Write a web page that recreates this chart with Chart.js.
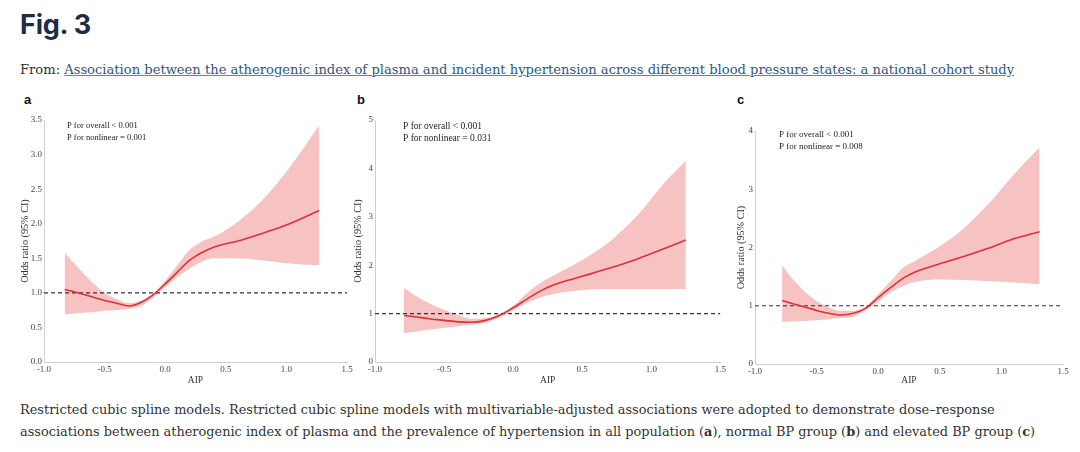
<!DOCTYPE html>
<html>
<head>
<meta charset="utf-8">
<script src="https://cdn.jsdelivr.net/npm/chart.js@4/dist/chart.umd.min.js"></script>
<style>
  body { margin: 0; background: #fff; width: 1080px; height: 452px; position: relative; overflow: hidden; }
  .fig-title { position: absolute; left: 20px; top: 8px; font: 700 27px "Inter", "Liberation Sans", sans-serif; color: #1f2c47; letter-spacing: -0.2px; }
  .from { position: absolute; left: 20px; top: 62px; font: 13.1px "DejaVu Serif", serif; color: #333; white-space: nowrap; }
  .from a { color: #2e5784; text-decoration: underline; text-decoration-color: #5a86b0; }
  .panel-tag { position: absolute; top: 92px; font: 700 13px "Liberation Sans", sans-serif; color: #111; }
  .caption { position: absolute; left: 20px; top: 399px; font: 12.9px "DejaVu Serif", serif; color: #333; line-height: 22px; white-space: nowrap; }
  canvas { position: absolute; }
</style>
</head>
<body>
<div class="fig-title">Fig. 3</div>
<div class="from">From: <a href="#">Association between the atherogenic index of plasma and incident hypertension across different blood pressure states: a national cohort study</a></div>

<div class="panel-tag" style="left:24px">a</div>
<div class="panel-tag" style="left:357px">b</div>
<div class="panel-tag" style="left:737px">c</div>

<canvas id="chartA" width="355" height="280" style="left:0px;top:110px"></canvas>
<canvas id="chartB" width="380" height="280" style="left:348px;top:110px"></canvas>
<canvas id="chartC" width="350" height="280" style="left:730px;top:110px"></canvas>

<div class="caption">Restricted cubic spline models. Restricted cubic spline models with multivariable-adjusted associations were adopted to demonstrate dose–response<br>associations between atherogenic index of plasma and the prevalence of hypertension in all population (<b>a</b>), normal BP group (<b>b</b>) and elevated BP group (<b>c</b>)</div>

<script>
// shared x axis (AIP)
const xTicks = [-1.0, -0.5, 0.0, 0.5, 1.0, 1.5];
const xTickLabels = ["-1.0", "-0.5", "0.0", "0.5", "1.0", "1.5"];
const refX = [-1.0, 1.5];
const refY = [1, 1];

// panel a - all population
const aipA = [-0.83, -0.7, -0.6, -0.5, -0.4, -0.3, -0.2, -0.1, 0.0, 0.1, 0.2, 0.3, 0.4, 0.5, 0.6, 0.8, 1.0, 1.27];
const orA = [1.05, 0.99, 0.94, 0.89, 0.85, 0.81, 0.86, 0.97, 1.13, 1.30, 1.47, 1.58, 1.66, 1.71, 1.75, 1.86, 1.98, 2.19];
const upA = [1.58, 1.33, 1.15, 1.00, 0.91, 0.85, 0.89, 0.99, 1.18, 1.40, 1.62, 1.74, 1.81, 1.91, 2.03, 2.34, 2.75, 3.42];
const loA = [0.69, 0.71, 0.72, 0.74, 0.75, 0.77, 0.81, 0.93, 1.08, 1.23, 1.35, 1.45, 1.50, 1.50, 1.50, 1.47, 1.43, 1.40];
const yTicksA = [0, 0.5, 1.0, 1.5, 2.0, 2.5, 3.0, 3.5];
const yTickLabelsA = ["0.0", "0.5", "1.0", "1.5", "2.0", "2.5", "3.0", "3.5"];
const noteA = ["P for overall < 0.001", "P for nonlinear = 0.001"];

// panel b - normal BP
const aipB = [-0.79, -0.7, -0.6, -0.5, -0.4, -0.3, -0.2, -0.1, 0.0, 0.1, 0.2, 0.3, 0.5, 0.7, 0.9, 1.1, 1.25];
const orB = [0.96, 0.93, 0.89, 0.86, 0.83, 0.82, 0.86, 0.96, 1.12, 1.30, 1.47, 1.60, 1.77, 1.94, 2.13, 2.35, 2.52];
const upB = [1.53, 1.36, 1.20, 1.08, 0.97, 0.89, 0.91, 0.99, 1.16, 1.42, 1.64, 1.80, 2.11, 2.49, 3.03, 3.72, 4.16];
const loB = [0.60, 0.63, 0.67, 0.71, 0.74, 0.77, 0.81, 0.92, 1.07, 1.22, 1.34, 1.41, 1.49, 1.51, 1.51, 1.51, 1.51];
const yTicksB = [0, 1, 2, 3, 4, 5];
const yTickLabelsB = ["0", "1", "2", "3", "4", "5"];
const noteB = ["P for overall < 0.001", "P for nonlinear = 0.031"];

// panel c - elevated BP
const aipC = [-0.78, -0.7, -0.6, -0.5, -0.4, -0.3, -0.2, -0.1, 0.0, 0.1, 0.2, 0.3, 0.5, 0.7, 0.9, 1.1, 1.31];
const orC = [1.09, 1.04, 0.98, 0.92, 0.87, 0.84, 0.87, 0.96, 1.14, 1.31, 1.47, 1.58, 1.72, 1.85, 1.99, 2.15, 2.27];
const upC = [1.70, 1.47, 1.25, 1.08, 0.97, 0.91, 0.91, 0.99, 1.20, 1.42, 1.65, 1.77, 2.02, 2.34, 2.76, 3.25, 3.72];
const loC = [0.72, 0.73, 0.74, 0.75, 0.77, 0.79, 0.81, 0.93, 1.07, 1.23, 1.34, 1.41, 1.45, 1.44, 1.42, 1.40, 1.37];
const yTicksC = [0, 1, 2, 3, 4];
const yTickLabelsC = ["0", "1", "2", "3", "4"];
const noteC = ["P for overall < 0.001", "P for nonlinear = 0.008"];

const serif = "'Liberation Serif', 'Times New Roman', serif";

function pts(xs, ys) {
  return xs.map((x, i) => ({ x: x, y: ys[i] }));
}

// writes the two P-value lines inside the plot area
const pNotePlugin = {
  id: "pnote",
  afterDraw(chart, args, opts) {
    const ctx = chart.ctx;
    const area = chart.chartArea;
    ctx.save();
    ctx.fillStyle = "#222";
    ctx.font = opts.size + "px " + serif;
    ctx.textBaseline = "middle";
    opts.lines.forEach((line, i) => {
      ctx.fillText(line, area.left + opts.dx, area.top + opts.dy + i * opts.gap);
    });
    ctx.restore();
  },
};

function drawPanel(id, cfg) {
  const canvas = document.getElementById(id);
  return new Chart(canvas, {
    type: "line",
    data: {
      datasets: [
        {
          data: pts(cfg.aip, cfg.or),
          borderColor: "#d8333a",
          borderWidth: 1.6,
          pointRadius: 0,
          cubicInterpolationMode: "monotone",
          fill: false,
        },
        {
          data: pts(refX, refY),
          borderColor: "#333",
          borderWidth: 1.2,
          borderDash: [4, 3],
          pointRadius: 0,
          fill: false,
        },
        {
          data: pts(cfg.aip, cfg.up),
          borderWidth: 0,
          borderColor: "rgba(0,0,0,0)",
          backgroundColor: "#f6c2c2",
          pointRadius: 0,
          cubicInterpolationMode: "monotone",
          fill: "+1",
        },
        {
          data: pts(cfg.aip, cfg.lo),
          borderWidth: 0,
          borderColor: "rgba(0,0,0,0)",
          pointRadius: 0,
          cubicInterpolationMode: "monotone",
          fill: false,
        },
      ],
    },
    options: {
      responsive: false,
      animation: false,
      events: [],
      layout: {
        padding: { top: cfg.padTop, right: cfg.padRight, left: 0, bottom: 0 },
      },
      plugins: {
        legend: { display: false },
        tooltip: { enabled: false },
        pnote: { lines: cfg.note, dx: cfg.noteDx, dy: cfg.noteDy, gap: 12, size: cfg.noteSize },
      },
      scales: {
        x: {
          type: "linear",
          min: -1,
          max: 1.5,
          afterBuildTicks: (s) => { s.ticks = xTicks.map((v) => ({ value: v })); },
          afterFit: (s) => { s.height = cfg.xHeight; },
          ticks: {
            callback: (v, i) => xTickLabels[i],
            font: { family: serif, size: 9 },
            color: "#444",
            padding: 2,
            maxRotation: 0,
          },
          grid: { display: false, drawTicks: false },
          border: { display: true, color: "#cfcfcf", width: 1 },
          title: {
            display: true,
            text: "AIP",
            font: { family: serif, size: 9.5 },
            color: "#333",
            padding: { top: 0, bottom: 4.3 },
          },
        },
        y: {
          min: 0,
          max: cfg.yMax,
          afterBuildTicks: (s) => { s.ticks = cfg.yTicks.map((v) => ({ value: v })); },
          afterFit: (s) => { s.width = cfg.yWidth; },
          ticks: {
            callback: (v, i) => cfg.yLabels[i],
            font: { family: serif, size: 9 },
            color: "#444",
            padding: 2,
          },
          grid: { display: false, drawTicks: false },
          border: { display: true, color: "#cfcfcf", width: 1 },
          title: {
            display: true,
            text: "Odds ratio (95% CI)",
            font: { family: serif, size: 10.2 },
            color: "#333",
            padding: { top: cfg.yTitlePad, bottom: 0 },
          },
        },
      },
    },
    plugins: [pNotePlugin],
  });
}

drawPanel("chartA", {
  aip: aipA, or: orA, up: upA, lo: loA,
  yMax: 3.5, yTicks: yTicksA, yLabels: yTickLabelsA, note: noteA,
  padTop: 10, padRight: 8, yWidth: 44, xHeight: 28, yTitlePad: 18.9,
  noteDx: 23, noteDy: 6, noteSize: 8.5,
});
drawPanel("chartB", {
  aip: aipB, or: orB, up: upB, lo: loB,
  yMax: 5, yTicks: yTicksB, yLabels: yTickLabelsB, note: noteB,
  padTop: 10, padRight: 5, yWidth: 27, xHeight: 28, yTitlePad: 3.9,
  noteDx: 28, noteDy: 6, noteSize: 9.5,
});
drawPanel("chartC", {
  aip: aipC, or: orC, up: upC, lo: loC,
  yMax: 4, yTicks: yTicksC, yLabels: yTickLabelsC, note: noteC,
  padTop: 21, padRight: 17, yWidth: 25, xHeight: 26, yTitlePad: 5.6,
  noteDx: 24, noteDy: 4, noteSize: 9,
});
</script>
</body>
</html>
